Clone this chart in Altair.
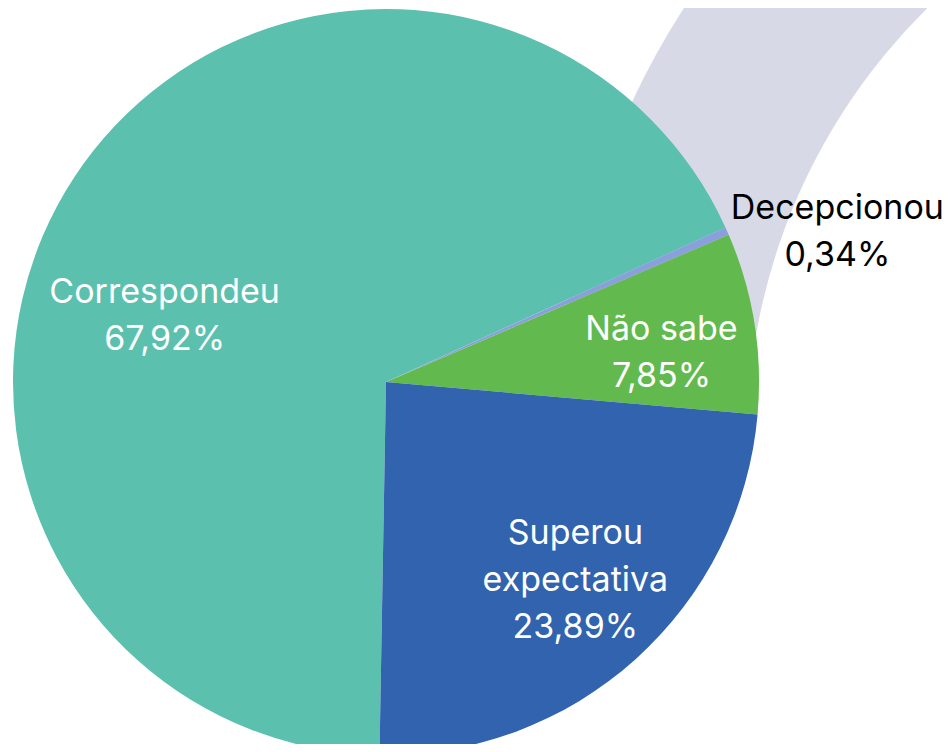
import math
import altair as alt
import pandas as pd

categories = ["Correspondeu", "Decepcionou", "Não sabe", "Superou expectativa"]
display_names = ["Correspondeu", "Decepcionou", "Não sabe", "Superou\nexpectativa"]
values = [67.92, 0.34, 7.85, 23.89]
colors = ["#5bc1ae", "#8aa0dc", "#62b94e", "#3163ae"]
text_colors = ["white", "black", "white", "white"]

pct = [f"{v:.2f}".replace(".", ",") + "%" for v in values]
df = pd.DataFrame({
    "cat": categories,
    "value": values,
    "idx": list(range(len(categories))),
    "label": [f"{n}\n{p}" for n, p in zip(display_names, pct)],
})

CX, CY, R = 378, 374, 373
start = math.radians(181)
theta_scale = alt.Scale(domain=[0, 100], range=[start, start + 2 * math.pi])

# decorative swoosh in background
swoosh = alt.Chart(pd.DataFrame({"a": [1]})).mark_arc(color="#d7d9e7").encode(
    x=alt.value(1344), y=alt.value(431),
    theta=alt.value(math.radians(275)), theta2=alt.value(math.radians(330)),
    radius=alt.value(605), radius2=alt.value(795),
)

base = alt.Chart(df)
pie = base.mark_arc(radius=R).encode(
    x=alt.value(CX), y=alt.value(CY),
    theta=alt.Theta("value:Q", stack=True, scale=theta_scale),
    order=alt.Order("idx:Q"),
    color=alt.Color("cat:N", scale=alt.Scale(domain=categories, range=colors), legend=None),
)

label_specs = {
    "Correspondeu": dict(radius=230, dx=-29, dy=37.5),
    "Decepcionou": dict(radius=475, dx=17, dy=19.5),
    "Não sabe": dict(radius=279, dx=0, dy=-7.5),
    "Superou expectativa": dict(radius=274, dx=6, dy=-52),
}

stacked = base.transform_window(
    cum="sum(value)", sort=[alt.SortField("idx")], frame=[None, 0]
).transform_calculate(mid="datum.cum - datum.value / 2")

layers = [swoosh, pie]
for cat, tc in zip(categories, text_colors):
    spec = label_specs[cat]
    t = stacked.transform_filter(alt.datum.cat == cat).mark_text(
        radius=spec["radius"], dx=spec["dx"], dy=spec["dy"],
        font="Inter", fontSize=34, color=tc, lineBreak="\n", lineHeight=47,
        align="center", baseline="middle",
    ).encode(
        x=alt.value(CX), y=alt.value(CY),
        theta=alt.Theta("mid:Q", stack=False, scale=theta_scale),
        text="label:N",
    )
    layers.append(t)

chart = alt.layer(*layers).properties(
    width=936, height=736, padding=0, autosize=alt.AutoSizeParams(type="none")
).configure_view(stroke=None)

chart.save("out.html", embed_options={"renderer": "svg", "actions": False})
